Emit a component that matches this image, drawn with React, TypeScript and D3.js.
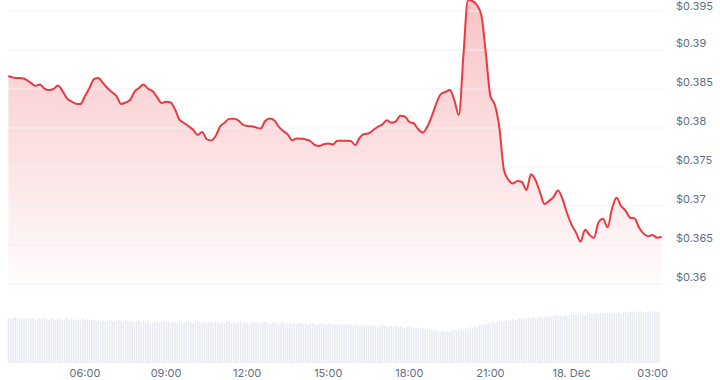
import React from "react";
import * as d3 from "d3";

// Price every 10 minutes starting 17 Dec 03:10
const priceStart = new Date(2023, 11, 17, 3, 10);
const priceStepMin = 10;
const prices: number[] = [
  0.38667, 0.38647, 0.38641, 0.38637, 0.38618, 0.38578, 0.38541, 0.38558, 0.38505, 0.38487,
  0.385, 0.38545, 0.38474, 0.3838, 0.3834, 0.38312, 0.38308, 0.3841, 0.38513, 0.38626,
  0.38641, 0.38577, 0.38509, 0.38458, 0.3841, 0.38308, 0.38326, 0.38359, 0.38465, 0.38514,
  0.38559, 0.38503, 0.38474, 0.38397, 0.38319, 0.38336, 0.38327, 0.38237, 0.38103, 0.38064,
  0.38023, 0.37978, 0.3791, 0.37949, 0.37859, 0.3784, 0.37897, 0.38019, 0.38068, 0.38117,
  0.38119, 0.38099, 0.38045, 0.38026, 0.38022, 0.38006, 0.37994, 0.3809, 0.38122, 0.381,
  0.38019, 0.37962, 0.37917, 0.37842, 0.37865, 0.37862, 0.37854, 0.37833, 0.37782, 0.37769,
  0.37791, 0.37801, 0.37788, 0.37837, 0.37837, 0.37837, 0.37833, 0.37782, 0.37878, 0.37923,
  0.37932, 0.37974, 0.38015, 0.38045, 0.38099, 0.38067, 0.38086, 0.38156, 0.38147, 0.38077,
  0.38059, 0.37981, 0.37942, 0.38018, 0.38154, 0.38315, 0.38437, 0.38462, 0.38488, 0.38355,
  0.38167, 0.38923, 0.39641, 0.39628, 0.39577, 0.39442, 0.38949, 0.3841, 0.38295, 0.38,
  0.37462, 0.37335, 0.37288, 0.37321, 0.37308, 0.37205, 0.37406, 0.37333, 0.37179, 0.37026,
  0.37064, 0.37115, 0.37199, 0.3709, 0.3691, 0.36762, 0.36659, 0.36545, 0.36694, 0.36629,
  0.3659, 0.36792, 0.36838, 0.36727, 0.36967, 0.37105, 0.37, 0.3694, 0.3685, 0.3684,
  0.36724, 0.36646, 0.36612, 0.36627, 0.36594, 0.36606,
];

// Volume every 5 minutes (millions)
const volStepMin = 5;
const volumes: number[] = [
  45, 44, 45, 46, 44, 45, 43, 45, 44, 45,
  44, 45, 43, 44, 45, 44, 46, 44, 43, 45,
  44, 43, 45, 44, 43, 44, 45, 43, 44, 43,
  44, 43, 42, 44, 43, 44, 42, 43, 44, 42,
  43, 42, 43, 41, 42, 43, 42, 41, 42, 43,
  42, 41, 43, 42, 41, 42, 41, 42, 43, 41,
  42, 41, 42, 40, 41, 42, 41, 40, 42, 41,
  41, 42, 40, 41, 41, 40, 42, 41, 40, 41,
  42, 41, 40, 41, 42, 41, 40, 41, 40, 41,
  41, 40, 42, 41, 40, 41, 40, 41, 42, 40,
  41, 40, 41, 42, 40, 41, 40, 39, 41, 40,
  40, 41, 39, 40, 41, 40, 39, 40, 41, 40,
  39, 40, 41, 39, 40, 40, 39, 40, 39, 40,
  40, 39, 40, 38, 39, 40, 39, 38, 39, 40,
  39, 38, 39, 40, 38, 39, 38, 39, 38, 39,
  38, 39, 38, 37, 38, 39, 37, 38, 37, 38,
  37, 38, 37, 38, 36, 37, 38, 37, 36, 37,
  37, 36, 37, 36, 37, 36, 35, 36, 37, 36,
  35, 36, 35, 34, 35, 34, 33, 34, 33, 32,
  33, 32, 31, 32, 31, 32, 31, 32, 33, 32,
  33, 34, 33, 35, 34, 36, 35, 37, 36, 38,
  38, 39, 38, 40, 39, 41, 40, 41, 42, 41,
  42, 43, 42, 43, 44, 43, 44, 45, 44, 45,
  45, 46, 45, 46, 45, 46, 47, 46, 47, 46,
  47, 46, 47, 48, 47, 48, 47, 48, 47, 48,
  48, 49, 48, 49, 48, 49, 48, 49, 50, 49,
  49, 50, 49, 50, 49, 50, 50, 51, 50, 51,
  50, 51, 50, 51, 51, 50, 51, 52, 51, 50,
  51, 52, 51, 50, 51, 52, 51, 52, 51, 52,
];

const yTicks: number[] = [0.36, 0.365, 0.37, 0.375, 0.38, 0.385, 0.39, 0.395];
const yTickLabels: string[] = ["$0.36", "$0.365", "$0.37", "$0.375", "$0.38", "$0.385", "$0.39", "$0.395"];
const xTickLabels: string[] = ["06:00", "09:00", "12:00", "15:00", "18:00", "21:00", "18. Dec", "03:00"];
const xTickTimes: Date[] = [
  new Date(2023, 11, 17, 6, 0),
  new Date(2023, 11, 17, 9, 0),
  new Date(2023, 11, 17, 12, 0),
  new Date(2023, 11, 17, 15, 0),
  new Date(2023, 11, 17, 18, 0),
  new Date(2023, 11, 17, 21, 0),
  new Date(2023, 11, 18, 0, 0),
  new Date(2023, 11, 18, 3, 0),
];

const W = 720;
const H = 380;
const RED = "#ea3943";
const TEXT = "#616e85";
const FONT = "Inter, 'Noto Sans', sans-serif";

export default function App() {
  const priceData = prices.map((p, i) => ({
    t: new Date(priceStart.getTime() + i * priceStepMin * 60000),
    v: p,
  }));
  const volData = volumes.map((v, i) => ({
    t: new Date(priceStart.getTime() + i * volStepMin * 60000),
    v,
  }));

  const x = d3
    .scaleTime()
    .domain([priceStart, new Date(2023, 11, 18, 3, 20)])
    .range([8.4, 661.6]);
  const y = d3.scaleLinear().domain([0.36, 0.395]).range([284, 11]);
  const yv = d3.scaleLinear().domain([0, 60]).range([363, 303]);

  const gridX0 = 8;
  const gridX1 = 663;
  const areaBase = 296;

  const line = d3
    .line<{ t: Date; v: number }>()
    .x((d) => x(d.t))
    .y((d) => y(d.v))
    .curve(d3.curveMonotoneX);
  const area = d3
    .area<{ t: Date; v: number }>()
    .x((d) => x(d.t))
    .y0(areaBase)
    .y1((d) => y(d.v))
    .curve(d3.curveMonotoneX);

  const pitch = x(new Date(priceStart.getTime() + volStepMin * 60000)) - x(priceStart);
  const barW = pitch * 0.68;

  return (
    <svg
      width={W}
      height={H}
      style={{ position: "absolute", left: 0, top: 0, background: "#fff" }}
      fontFamily={FONT}
    >
      <defs>
        <linearGradient id="areaGrad" gradientUnits="userSpaceOnUse" x1="0" y1="0" x2="0" y2={areaBase}>
          <stop offset="0" stopColor={RED} stopOpacity={0.3} />
          <stop offset="0.55" stopColor={RED} stopOpacity={0.14} />
          <stop offset="1" stopColor={RED} stopOpacity={0} />
        </linearGradient>
      </defs>

      {/* volume bars */}
      <g>
        {volData.map((d, i) => (
          <rect
            key={i}
            x={x(d.t) - barW / 2}
            y={yv(d.v)}
            width={barW}
            height={yv(0) - yv(d.v)}
            fill="#e8ebf1"
          />
        ))}
      </g>

      {/* area */}
      <path d={area(priceData) || ""} fill="url(#areaGrad)" />

      {/* grid */}
      <g>
        {yTicks.map((t, i) => (
          <line key={i} x1={gridX0} x2={gridX1} y1={y(t)} y2={y(t)} stroke="#eff2f5" strokeWidth={1} />
        ))}
      </g>

      {/* line */}
      <path d={line(priceData) || ""} fill="none" stroke={RED} strokeWidth={2} strokeLinejoin="round" />

      {/* y labels */}
      <g fontSize={11} fill={TEXT}>
        {yTicks.map((t, i) => (
          <text key={i} x={676} y={Math.max(y(t) - 6, 6.5)} dominantBaseline="middle">
            {yTickLabels[i]}
          </text>
        ))}
      </g>

      {/* x labels */}
      <g fontSize={11} fill={TEXT}>
        {xTickTimes.map((t, i) => (
          <text key={i} x={x(t)} y={373.5} textAnchor="middle" dominantBaseline="middle">
            {xTickLabels[i]}
          </text>
        ))}
      </g>
    </svg>
  );
}
